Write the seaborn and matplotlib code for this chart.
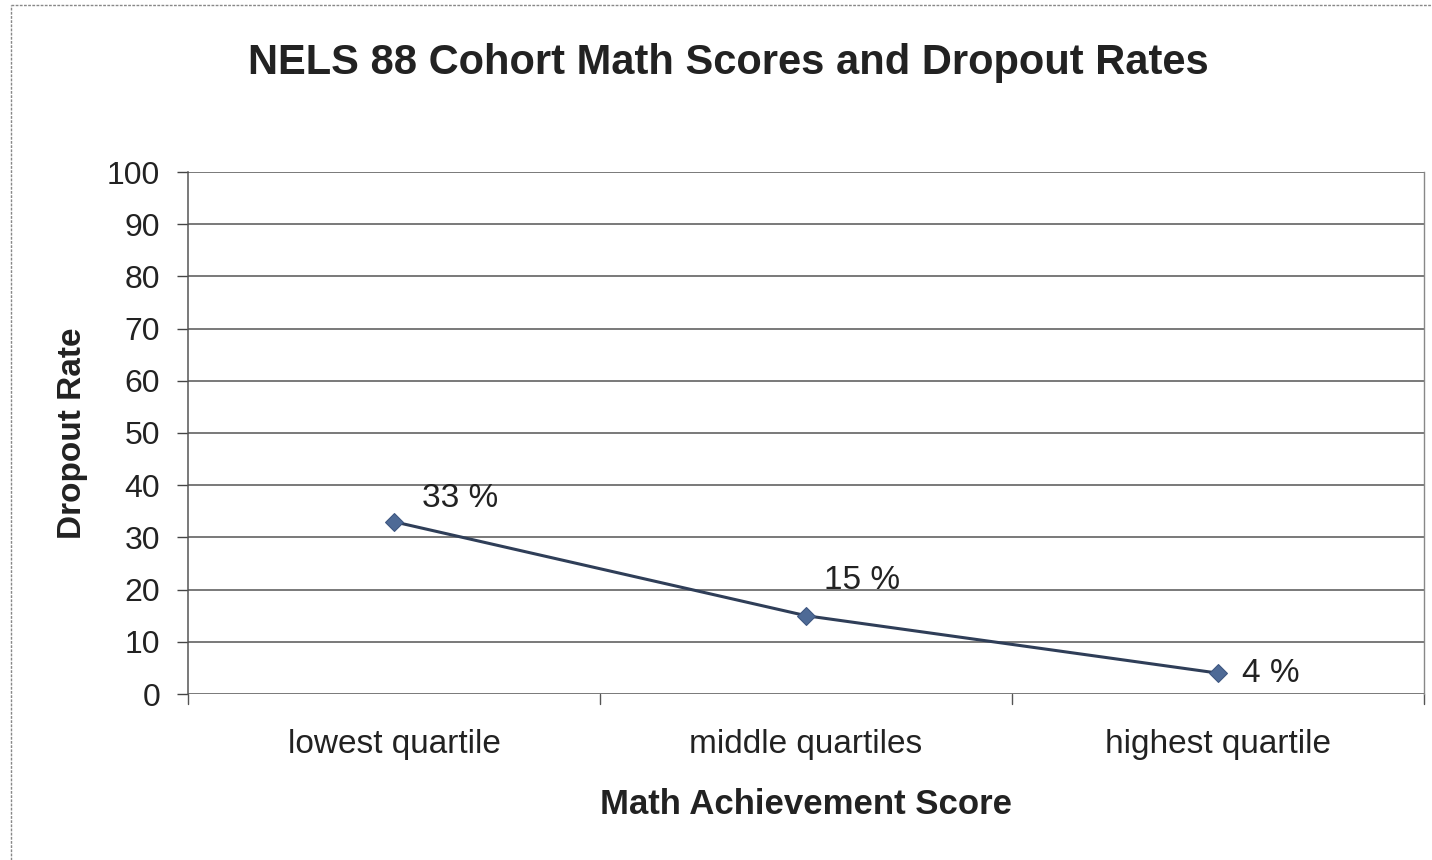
import matplotlib
matplotlib.use("Agg")
import matplotlib.pyplot as plt
import seaborn as sns
import pandas as pd
from matplotlib.lines import Line2D

categories = ["lowest quartile", "middle quartiles", "highest quartile"]
dropout_rates = [33, 15, 4]
point_labels = ["33 %", "15 %", "4 %"]
y_ticks = [0, 10, 20, 30, 40, 50, 60, 70, 80, 90, 100]

df = pd.DataFrame({"category": categories, "rate": dropout_rates})

sns.set_theme(style="white")
plt.rcParams["font.family"] = ["Liberation Sans", "DejaVu Sans"]

fig = plt.figure(figsize=(14.32, 8.6), dpi=100)
ax = fig.add_axes([188/1432, 1-694/860, (1424-188)/1432, (694-172)/860])

sns.lineplot(data=df, x="category", y="rate", ax=ax, color="#2f3e58",
             linewidth=2.2, marker="D", markersize=9, markerfacecolor="#4e6a96",
             markeredgecolor="#3d5580", sort=False)

ax.set_xlim(-0.5, 2.5)
ax.set_ylim(0, 100)
ax.set_yticks(y_ticks)
ax.set_yticklabels([str(t) for t in y_ticks], fontsize=23, color="#222222")
ax.set_xticks(range(len(categories)))
ax.set_xticklabels(categories, fontsize=24, color="#222222")
ax.tick_params(axis="x", length=0, pad=25)
ax.tick_params(axis="y", length=8, width=1, color="#444444", direction="out", pad=12, left=True)

for y in y_ticks[1:]:
    ax.axhline(y, color="#555555", linewidth=1.1, zorder=0)

for s in ["top", "bottom"]:
    ax.spines[s].set_visible(False)
ax.spines["left"].set_color("#555555")
ax.spines["left"].set_linewidth(1.1)
ax.spines["right"].set_color("#888888")
ax.spines["right"].set_linewidth(1.0)
ax.axhline(0, color="#555555", linewidth=1.1)

# category boundary tick marks below axis
for b in [-0.5, 0.5, 1.5, 2.5]:
    ax.plot([b, b], [0, -2], color="#555555", linewidth=1.0, clip_on=False)

offsets = [(20, 17), (13, 25), (17, 0)]
for i, (v, lab) in enumerate(zip(dropout_rates, point_labels)):
    ax.annotate(lab, (i, v), xytext=offsets[i], textcoords="offset points",
                fontsize=24, color="#222222", va="center", ha="left")

ax.set_xlabel("Math Achievement Score", fontsize=25, fontweight="bold", color="#222222", labelpad=20)
ax.set_ylabel("Dropout Rate", fontsize=24, fontweight="bold", color="#222222", labelpad=14)

fig.text(728/1432, 1-63/860, "NELS 88 Cohort Math Scores and Dropout Rates",
         ha="center", va="center", fontsize=30, fontweight="bold", color="#222222")

# outer chart frame
fig.add_artist(Line2D([11/1432, 11/1432], [0, 1-5/860], transform=fig.transFigure,
                      color="#888888", linewidth=1.0, linestyle=(0, (2, 1))))
fig.add_artist(Line2D([11/1432, 1], [1-5/860, 1-5/860], transform=fig.transFigure,
                      color="#888888", linewidth=1.0, linestyle=(0, (2, 1))))

fig.savefig("out.png", dpi=100)
